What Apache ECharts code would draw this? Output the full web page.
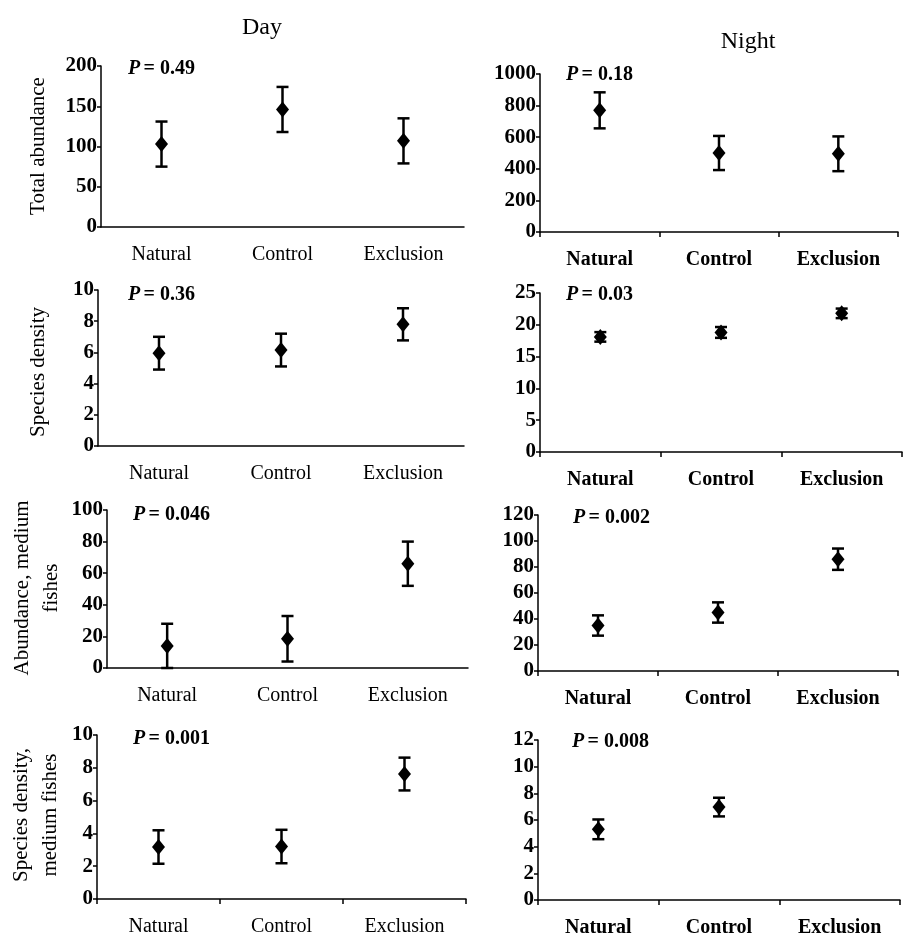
<!DOCTYPE html>
<html>
<head>
<meta charset="utf-8">
<script src="https://cdn.jsdelivr.net/npm/echarts@6/dist/echarts.min.js"></script>
<style>html,body{margin:0;padding:0;background:#fff;}#c{width:903px;height:938px;}</style>
</head>
<body>
<div id="c"></div>
<script>
// ---- data ----
const categories = ['Natural', 'Control', 'Exclusion'];
const columnTitles = ['Day', 'Night'];
const rowNames = ['Total abundance', 'Species density', 'Abundance, medium\nfishes', 'Species density,\nmedium fishes'];

const dayTotalMean = [103, 146, 107];
const dayTotalErr = [28, 28, 28];
const nightTotalMean = [770, 500, 495];
const nightTotalErr = [114, 108, 110];

const daySpeciesMean = [5.95, 6.15, 7.8];
const daySpeciesErr = [1.05, 1.05, 1.03];
const nightSpeciesMean = [18.1, 18.8, 21.8];
const nightSpeciesErr = [0.75, 0.85, 0.75];

const dayMedAbundMean = [14, 18.5, 66];
const dayMedAbundErr = [14, 14.4, 14];
const nightMedAbundMean = [35, 45, 86];
const nightMedAbundErr = [7.8, 7.8, 8.2];

const dayMedSpeciesMean = [3.17, 3.2, 7.62];
const dayMedSpeciesErr = [1.02, 1.02, 1.0];
const nightMedSpeciesMean = [5.3, 6.97, null];
const nightMedSpeciesErr = [0.74, 0.7, null];

const pValues = ['0.49', '0.18', '0.36', '0.03', '0.046', '0.002', '0.001', '0.008'];
const yMax = [200, 1000, 10, 25, 100, 120, 10, 12];
const yInterval = [50, 200, 2, 5, 20, 20, 2, 2];

// ---- layout ----
const FONT = 'Liberation Serif';
const grids = [
  {left: 101, top: 66, width: 363, height: 161},
  {left: 540, top: 74, width: 358, height: 158},
  {left: 98, top: 290, width: 366, height: 156},
  {left: 540, top: 293, width: 362, height: 159},
  {left: 107, top: 510, width: 361, height: 158},
  {left: 538, top: 515, width: 360, height: 156},
  {left: 97, top: 735, width: 369, height: 164},
  {left: 538, top: 740, width: 362, height: 163}
];
const showXTicks = [false, true, false, true, false, true, true, true];
const pPos = [[128, 69], [566, 75], [128, 295], [566, 295], [133, 515], [573, 518], [133, 739], [572, 742]];
const panelMeans = [dayTotalMean, nightTotalMean, daySpeciesMean, nightSpeciesMean, dayMedAbundMean, nightMedAbundMean, dayMedSpeciesMean, nightMedSpeciesMean];
const panelErrs = [dayTotalErr, nightTotalErr, daySpeciesErr, nightSpeciesErr, dayMedAbundErr, nightMedAbundErr, dayMedSpeciesErr, nightMedSpeciesErr];

const xAxes = [], yAxes = [], series = [], graphics = [];
grids.forEach((g, i) => {
  const night = i % 2 === 1;
  xAxes.push({
    type: 'category', gridIndex: i, data: categories,
    axisLine: {lineStyle: {color: '#000', width: 1.5}},
    axisTick: {show: showXTicks[i], length: 5, lineStyle: {color: '#000', width: 1.5}},
    axisLabel: {fontFamily: FONT, fontSize: 20, color: '#000', fontWeight: night ? 'bold' : 'normal', margin: 18}
  });
  yAxes.push({
    type: 'value', gridIndex: i, min: 0, max: yMax[i], interval: yInterval[i],
    splitLine: {show: false},
    axisLine: {show: true, lineStyle: {color: '#000', width: 1.5}},
    axisTick: {show: true, length: 4, lineStyle: {color: '#000', width: 1.5}},
    axisLabel: {fontFamily: FONT, fontSize: 21, color: '#000', fontWeight: 'bold', margin: 4,
      formatter: function (v) { return String(v); }}
  });
  const m = panelMeans[i], e = panelErrs[i];
  const errData = [], meanData = [];
  categories.forEach((c, k) => {
    if (m[k] != null) {
      errData.push([k, m[k], e[k]]);
      meanData.push([k, m[k]]);
    }
  });
  series.push({
    type: 'custom', xAxisIndex: i, yAxisIndex: i, data: errData, silent: true,
    encode: {x: 0, y: 1},
    renderItem: function (params, api) {
      const x = api.value(0), mv = api.value(1), ev = api.value(2);
      const hi = api.coord([x, mv + ev]);
      const lo = api.coord([x, mv - ev]);
      const cap = 6;
      const st = {stroke: '#000', lineWidth: 2.5};
      return {type: 'group', children: [
        {type: 'line', shape: {x1: hi[0], y1: hi[1], x2: lo[0], y2: lo[1]}, style: st},
        {type: 'line', shape: {x1: hi[0] - cap, y1: hi[1], x2: hi[0] + cap, y2: hi[1]}, style: st},
        {type: 'line', shape: {x1: lo[0] - cap, y1: lo[1], x2: lo[0] + cap, y2: lo[1]}, style: st}
      ]};
    },
    z: 2
  });
  series.push({
    type: 'scatter', xAxisIndex: i, yAxisIndex: i, data: meanData,
    symbol: 'diamond', symbolSize: [13, 16],
    itemStyle: {color: '#000', opacity: 1}, z: 3
  });
  graphics.push({
    type: 'text', x: pPos[i][0], y: pPos[i][1],
    style: {
      text: '{i|P} {b|= ' + pValues[i] + '}',
      textVerticalAlign: 'middle', textAlign: 'left',
      rich: {
        i: {fontFamily: FONT, fontSize: 20, fontWeight: 'bold', fontStyle: 'italic', fill: '#000'},
        b: {fontFamily: FONT, fontSize: 20, fontWeight: 'bold', fill: '#000'}
      }
    }
  });
});

// column titles
graphics.push({type: 'text', x: 262, y: 28, style: {text: columnTitles[0], fontFamily: FONT, fontSize: 24, fill: '#000', textAlign: 'center', textVerticalAlign: 'middle'}});
graphics.push({type: 'text', x: 748, y: 42, style: {text: columnTitles[1], fontFamily: FONT, fontSize: 24, fill: '#000', textAlign: 'center', textVerticalAlign: 'middle'}});

// row (y-axis) names
const rowNamePos = [[38, 146], [38, 372], [37, 588], [36, 815]];
rowNames.forEach((t, r) => {
  graphics.push({
    type: 'text', x: rowNamePos[r][0], y: rowNamePos[r][1], rotation: Math.PI / 2,
    style: {text: t, fontFamily: FONT, fontSize: 21, fill: '#000', textAlign: 'center', textVerticalAlign: 'middle', lineHeight: 29}
  });
});

const chart = echarts.init(document.getElementById('c'), null, {renderer: 'canvas'});
chart.setOption({
  backgroundColor: '#fff',
  animation: false,
  grid: grids,
  xAxis: xAxes,
  yAxis: yAxes,
  series: series,
  graphic: graphics
});
</script>
</body>
</html>
